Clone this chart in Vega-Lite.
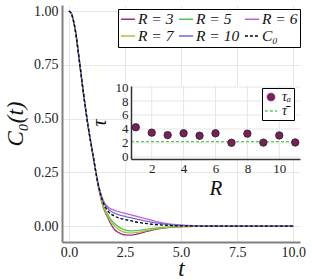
{
  "$schema": "https://vega.github.io/schema/vega-lite/v6.json",
  "width": 238,
  "height": 237,
  "autosize": {"type": "none"},
  "padding": {"left": 62, "top": 5, "right": 12, "bottom": 38},
  "config": {
    "view": {"stroke": null},
    "font": "Liberation Serif",
    "axis": {"labelColor": "#222", "titleColor": "#111", "titleFontWeight": "normal", "labelFont": "Liberation Serif", "titleFont": "Liberation Serif"},
    "legend": {"labelFont": "Liberation Serif", "titleFont": "Liberation Serif"}
  },
  "layer": [
    {
      "data": {"values": [
        {"t": 0, "R = 3": 1, "R = 5": 1, "R = 6": 1, "R = 7": 1, "R = 10": 1, "C₀": 1},
        {"t": 0.1, "R = 3": 0.99, "R = 5": 0.99, "R = 6": 0.99, "R = 7": 0.99, "R = 10": 0.99, "C₀": 0.99},
        {"t": 0.2, "R = 3": 0.955, "R = 5": 0.955, "R = 6": 0.955, "R = 7": 0.955, "R = 10": 0.955, "C₀": 0.955},
        {"t": 0.3, "R = 3": 0.9, "R = 5": 0.9, "R = 6": 0.9, "R = 7": 0.9, "R = 10": 0.9, "C₀": 0.9},
        {"t": 0.45, "R = 3": 0.78, "R = 5": 0.78, "R = 6": 0.78, "R = 7": 0.78, "R = 10": 0.78, "C₀": 0.78},
        {"t": 0.65, "R = 3": 0.615, "R = 5": 0.615, "R = 6": 0.615, "R = 7": 0.615, "R = 10": 0.615, "C₀": 0.615},
        {"t": 0.86, "R = 3": 0.46, "R = 5": 0.46, "R = 6": 0.46, "R = 7": 0.46, "R = 10": 0.46, "C₀": 0.46},
        {"t": 1.08, "R = 3": 0.325, "R = 5": 0.325, "R = 6": 0.325, "R = 7": 0.325, "R = 10": 0.325, "C₀": 0.325},
        {"t": 1.31, "R = 3": 0.183, "R = 5": 0.187, "R = 6": 0.195, "R = 7": 0.185, "R = 10": 0.193, "C₀": 0.19},
        {"t": 1.5, "R = 3": 0.098, "R = 5": 0.108, "R = 6": 0.128, "R = 7": 0.103, "R = 10": 0.122, "C₀": 0.117},
        {"t": 1.75, "R = 3": 0.035, "R = 5": 0.05, "R = 6": 0.088, "R = 7": 0.042, "R = 10": 0.08, "C₀": 0.068},
        {"t": 2.0, "R = 3": -0.012, "R = 5": 0.015, "R = 6": 0.075, "R = 7": 0.005, "R = 10": 0.062, "C₀": 0.048},
        {"t": 2.25, "R = 3": -0.032, "R = 5": -0.006, "R = 6": 0.066, "R = 7": -0.018, "R = 10": 0.052, "C₀": 0.037},
        {"t": 2.5, "R = 3": -0.041, "R = 5": -0.018, "R = 6": 0.059, "R = 7": -0.029, "R = 10": 0.045, "C₀": 0.03},
        {"t": 2.75, "R = 3": -0.042, "R = 5": -0.022, "R = 6": 0.053, "R = 7": -0.032, "R = 10": 0.039, "C₀": 0.025},
        {"t": 3.0, "R = 3": -0.038, "R = 5": -0.021, "R = 6": 0.046, "R = 7": -0.03, "R = 10": 0.033, "C₀": 0.019},
        {"t": 3.5, "R = 3": -0.024, "R = 5": -0.014, "R = 6": 0.032, "R = 7": -0.02, "R = 10": 0.022, "C₀": 0.011},
        {"t": 4.0, "R = 3": -0.013, "R = 5": -0.008, "R = 6": 0.019, "R = 7": -0.011, "R = 10": 0.013, "C₀": 0.006},
        {"t": 4.5, "R = 3": -0.006, "R = 5": -0.004, "R = 6": 0.01, "R = 7": -0.005, "R = 10": 0.007, "C₀": 0.003},
        {"t": 5.0, "R = 3": -0.003, "R = 5": -0.002, "R = 6": 0.005, "R = 7": -0.002, "R = 10": 0.003, "C₀": 0.001},
        {"t": 6.0, "R = 3": -0.001, "R = 5": -0.0005, "R = 6": 0.001, "R = 7": -0.0005, "R = 10": 0.001, "C₀": 0},
        {"t": 7.0, "R = 3": 0, "R = 5": 0, "R = 6": 0, "R = 7": 0, "R = 10": 0, "C₀": 0},
        {"t": 8.0, "R = 3": 0, "R = 5": 0, "R = 6": 0, "R = 7": 0, "R = 10": 0, "C₀": 0},
        {"t": 9.0, "R = 3": 0, "R = 5": 0, "R = 6": 0, "R = 7": 0, "R = 10": 0, "C₀": 0},
        {"t": 10.0, "R = 3": 0, "R = 5": 0, "R = 6": 0, "R = 7": 0, "R = 10": 0, "C₀": 0}
      ]},
      "transform": [{"fold": ["R = 3", "R = 5", "R = 6", "R = 7", "R = 10", "C₀"], "as": ["s", "c"]}],
      "mark": {"type": "line", "strokeWidth": 1.3, "interpolate": "monotone"},
      "encoding": {
        "x": {"field": "t", "type": "quantitative",
          "scale": {"domain": [-0.31, 10.3], "nice": false, "zero": false},
          "axis": {"values": [0, 2.5, 5, 7.5, 10], "format": ".1f", "title": "t", "titleFontStyle": "italic", "titleFontSize": 23,
            "labelFontSize": 14, "domainColor": "#808080", "domainWidth": 2, "ticks": false, "gridColor": "#e8e8e8",
            "labelPadding": 3, "titlePadding": -2}},
        "y": {"field": "c", "type": "quantitative",
          "scale": {"domain": [-0.074, 1.028], "nice": false, "zero": false},
          "axis": {"values": [0, 0.25, 0.5, 0.75, 1], "format": ".2f", "title": "C₀(t)", "titleFontStyle": "italic", "titleFontSize": 23,
            "labelFontSize": 14, "domainColor": "#808080", "domainWidth": 2, "ticks": false, "gridColor": "#e8e8e8",
            "labelPadding": 4, "titlePadding": 6}},
        "color": {"field": "s", "type": "nominal",
          "scale": {"domain": ["R = 3", "R = 7", "R = 5", "R = 10", "R = 6", "C₀"],
            "range": ["#9b2d7f", "#9fc43a", "#55c055", "#6b6be0", "#c45cd0", "#000000"]},
          "legend": {"title": null, "orient": "none", "legendX": 56, "legendY": 4, "columns": 3, "padding": 2,
            "strokeColor": "#000", "fillColor": "#fff", "cornerRadius": 0, "labelFontSize": 15.5, "labelFontStyle": "italic",
            "labelColor": "#111", "symbolSize": 200, "symbolStrokeWidth": 1.5, "columnPadding": 1, "rowPadding": -1, "labelOffset": 2}},
        "strokeDash": {"field": "s", "type": "nominal",
          "scale": {"domain": ["R = 3", "R = 7", "R = 5", "R = 10", "R = 6", "C₀"],
            "range": [[1, 0], [1, 0], [1, 0], [1, 0], [1, 0], [3, 2]]},
          "legend": {"title": null, "orient": "none", "legendX": 56, "legendY": 4, "columns": 3, "padding": 2,
            "strokeColor": "#000", "fillColor": "#fff", "cornerRadius": 0, "labelFontSize": 15.5, "labelFontStyle": "italic",
            "labelColor": "#111", "symbolSize": 200, "symbolStrokeWidth": 1.5, "columnPadding": 1, "rowPadding": -1, "labelOffset": 2}}
      }
    },
    {
      "layer": [
        {
          "data": {"values": [{}]},
          "mark": {"type": "rect", "fill": "#ffffff"},
          "encoding": {
            "x": {"datum": 0.7, "type": "quantitative", "scale": {"domain": [0.7, 11.3], "range": [69, 238], "nice": false, "zero": false}},
            "x2": {"datum": 11.3},
            "y": {"datum": -0.3, "type": "quantitative", "scale": {"domain": [-0.3, 10.15], "range": [154, 81], "nice": false, "zero": false}},
            "y2": {"datum": 10.15}
          }
        },
        {
          "data": {"values": [{"R": 2}, {"R": 4}, {"R": 6}, {"R": 8}, {"R": 10}]},
          "mark": {"type": "rule", "stroke": "#e6e6e6", "strokeWidth": 1},
          "encoding": {
            "x": {"field": "R", "type": "quantitative", "scale": {"domain": [0.7, 11.3], "range": [69, 238], "nice": false, "zero": false}},
            "y": {"datum": -0.3, "type": "quantitative", "scale": {"domain": [-0.3, 10.15], "range": [154, 81], "nice": false, "zero": false}},
            "y2": {"datum": 10.15}
          }
        },
        {
          "data": {"values": [{"tau": 0}, {"tau": 2}, {"tau": 4}, {"tau": 6}, {"tau": 8}, {"tau": 10}]},
          "mark": {"type": "rule", "stroke": "#e6e6e6", "strokeWidth": 1},
          "encoding": {
            "y": {"field": "tau", "type": "quantitative", "scale": {"domain": [-0.3, 10.15], "range": [154, 81], "nice": false, "zero": false}},
            "x": {"datum": 0.7, "type": "quantitative", "scale": {"domain": [0.7, 11.3], "range": [69, 238], "nice": false, "zero": false}},
            "x2": {"datum": 11.3}
          }
        },
        {
          "data": {"values": [{"kind": "τ̄", "tau": 2.2}]},
          "mark": {"type": "rule", "strokeDash": [3, 2], "strokeWidth": 1.2},
          "encoding": {
            "y": {"field": "tau", "type": "quantitative", "scale": {"domain": [-0.3, 10.15], "range": [154, 81], "nice": false, "zero": false}},
            "x": {"datum": 0.7, "type": "quantitative", "scale": {"domain": [0.7, 11.3], "range": [69, 238], "nice": false, "zero": false}},
            "x2": {"datum": 11.3},
            "color": {"field": "kind", "type": "nominal", "scale": {"domain": ["τₐ", "τ̄"], "range": ["#7a1f5c", "#5cc85c"]},
              "legend": {"title": null, "orient": "none", "legendX": 200, "legendY": 83, "padding": 2, "strokeColor": "#000", "fillColor": "#fff",
                "cornerRadius": 0, "labelFontSize": 14, "labelFontStyle": "italic", "labelColor": "#111", "rowPadding": -2, "labelOffset": 4,
                "symbolSize": 60,
                "encode": {"symbols": {"update": {
                  "shape": {"signal": "datum.value === 'τ̄' ? 'stroke' : 'circle'"},
                  "fill": {"signal": "datum.value === 'τ̄' ? 'transparent' : '#7a1f5c'"},
                  "stroke": {"signal": "datum.value === 'τ̄' ? '#5cc85c' : '#222'"},
                  "strokeDash": {"signal": "datum.value === 'τ̄' ? [3, 2] : [1, 0]"},
                  "strokeWidth": {"signal": "datum.value === 'τ̄' ? 1.5 : 0.8"},
                  "size": {"signal": "datum.value === 'τ̄' ? 150 : 60"}
                }}}}}
          }
        },
        {
          "data": {"values": [
            {"kind": "τₐ", "R": 1, "tau": 4.24},
            {"kind": "τₐ", "R": 2, "tau": 3.47},
            {"kind": "τₐ", "R": 3, "tau": 3.12},
            {"kind": "τₐ", "R": 4, "tau": 3.38},
            {"kind": "τₐ", "R": 5, "tau": 3.03},
            {"kind": "τₐ", "R": 6, "tau": 3.38},
            {"kind": "τₐ", "R": 7, "tau": 2.02},
            {"kind": "τₐ", "R": 8, "tau": 3.33},
            {"kind": "τₐ", "R": 9, "tau": 2.05},
            {"kind": "τₐ", "R": 10, "tau": 3.07},
            {"kind": "τₐ", "R": 11, "tau": 2.07}
          ]},
          "mark": {"type": "point", "filled": true, "size": 55, "opacity": 1, "stroke": "#222", "strokeWidth": 0.8},
          "encoding": {
            "x": {"field": "R", "type": "quantitative", "scale": {"domain": [0.7, 11.3], "range": [69, 238], "nice": false, "zero": false},
              "axis": {"orient": "bottom", "offset": -83, "values": [2, 4, 6, 8, 10], "title": "R", "titleFontStyle": "italic", "titleFontSize": 21,
                "labelFontSize": 13, "domainColor": "#333", "domainWidth": 1.5, "ticks": false, "grid": false, "labelPadding": 3, "titlePadding": 2, "zindex": 1}},
            "y": {"field": "tau", "type": "quantitative", "scale": {"domain": [-0.3, 10.15], "range": [154, 81], "nice": false, "zero": false},
              "axis": {"orient": "left", "offset": -69, "values": [0, 2, 4, 6, 8, 10], "title": "τ", "titleFontStyle": "italic", "titleFontSize": 20,
                "labelFontSize": 13, "domainColor": "#333", "domainWidth": 1.5, "ticks": false, "grid": false, "labelPadding": 3, "titlePadding": 6, "zindex": 1}},
            "color": {"field": "kind", "type": "nominal", "scale": {"domain": ["τₐ", "τ̄"], "range": ["#7a1f5c", "#5cc85c"]},
              "legend": {"title": null, "orient": "none", "legendX": 200, "legendY": 83, "padding": 2, "strokeColor": "#000", "fillColor": "#fff",
                "cornerRadius": 0, "labelFontSize": 14, "labelFontStyle": "italic", "labelColor": "#111", "rowPadding": -2, "labelOffset": 4,
                "symbolSize": 60,
                "encode": {"symbols": {"update": {
                  "shape": {"signal": "datum.value === 'τ̄' ? 'stroke' : 'circle'"},
                  "fill": {"signal": "datum.value === 'τ̄' ? 'transparent' : '#7a1f5c'"},
                  "stroke": {"signal": "datum.value === 'τ̄' ? '#5cc85c' : '#222'"},
                  "strokeDash": {"signal": "datum.value === 'τ̄' ? [3, 2] : [1, 0]"},
                  "strokeWidth": {"signal": "datum.value === 'τ̄' ? 1.5 : 0.8"},
                  "size": {"signal": "datum.value === 'τ̄' ? 150 : 60"}
                }}}}}
          }
        }
      ]
    }
  ],
  "resolve": {"scale": {"x": "independent", "y": "independent", "color": "independent", "strokeDash": "independent"},
    "axis": {"x": "independent", "y": "independent"}, "legend": {"color": "independent"}}
}
